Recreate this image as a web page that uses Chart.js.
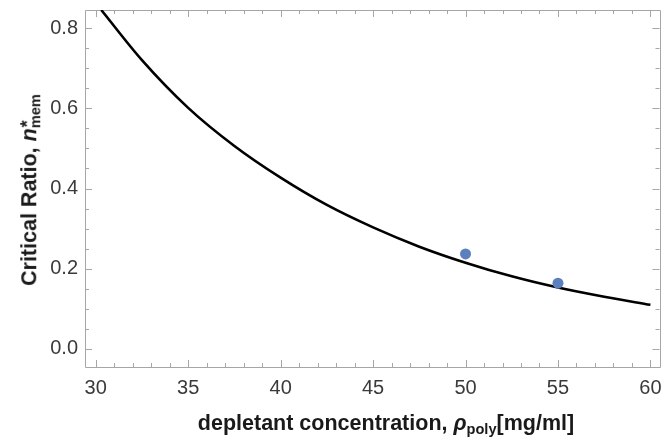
<!DOCTYPE html>
<html>
<head>
<meta charset="utf-8">
<script src="https://cdn.jsdelivr.net/npm/chart.js@4/dist/chart.umd.min.js"></script>
<style>
  html, body { margin: 0; padding: 0; background: #fff; }
  #wrap { position: relative; width: 665px; height: 447px; }
  canvas { position: absolute; left: 0; top: 0; }
  .ttl { position: absolute; font-family: "Liberation Sans", Arial, sans-serif; font-weight: bold; color: #1a1a1a; white-space: nowrap; font-size: 21.5px; line-height: 1; }
  .ttl i { font-style: italic; }
  .sb { font-size: 0.68em; position: relative; top: 0.3em; }
  .sx { display: inline-block; position: relative; }
  .st { position: absolute; left: 0.05em; top: -0.05em; font-size: 0.85em; }
  #xt { left: 386px; top: 424px; transform: translate(-50%, -50%); }
  #yt { left: 30px; top: 190px; transform: translate(-50%, -50%) rotate(-90deg); }
</style>
</head>
<body>
<div id="wrap">
  <canvas id="c" width="665" height="447"></canvas>
  <div class="ttl" id="xt">depletant concentration, <i>ρ</i><span class="sb">poly</span>[mg/ml]</div>
  <div class="ttl" id="yt">Critical Ratio, <i>n</i><span class="sx"><span class="st">*</span><span class="sb">mem</span></span></div>
</div>
<script>
// ---- data ----
const curveX = [30.3, 32.5, 35, 37.5, 40, 42.5, 45, 47.5, 50, 52.5, 55, 57.5, 60];
const curveY = [0.845, 0.720, 0.601, 0.506, 0.427, 0.359, 0.303, 0.255, 0.215, 0.181, 0.153, 0.130, 0.110];
const pointX = [50, 55];
const pointY = [0.237, 0.164];
const xTickValues = [30, 35, 40, 45, 50, 55, 60];
const yTickValues = [0.0, 0.2, 0.4, 0.6, 0.8];

const curveData = curveX.map((x, i) => ({ x: x, y: curveY[i] }));
const pointData = pointX.map((x, i) => ({ x: x, y: pointY[i] }));

const frameColor = '#a6a6a6';
const frameTicks = {
  id: 'frameTicks',
  beforeDatasetsDraw(chart) {
    const ctx = chart.ctx;
    const a = chart.chartArea;
    const xs = chart.scales.x, ys = chart.scales.y;
    ctx.save();
    ctx.strokeStyle = frameColor;
    ctx.lineWidth = 1;
    ctx.beginPath();
    ctx.rect(Math.round(a.left) + 0.5, Math.round(a.top) + 0.5, Math.round(a.right - a.left), Math.round(a.bottom - a.top));
    ctx.stroke();
    ctx.beginPath();
    for (let v = 30; v <= 60.001; v += 1) {
      const major = xTickValues.some(t => Math.abs(t - v) < 1e-6);
      const len = major ? 7 : 4;
      const px = Math.round(xs.getPixelForValue(v)) + 0.5;
      ctx.moveTo(px, a.bottom); ctx.lineTo(px, a.bottom - len);
      ctx.moveTo(px, a.top); ctx.lineTo(px, a.top + len);
    }
    for (let k = 0; k <= 16; k++) {
      const v = k * 0.05;
      const major = yTickValues.some(t => Math.abs(t - v) < 1e-6);
      const len = major ? 7 : 4;
      const py = Math.round(ys.getPixelForValue(v)) + 0.5;
      ctx.moveTo(a.left, py); ctx.lineTo(a.left + len, py);
      ctx.moveTo(a.right, py); ctx.lineTo(a.right - len, py);
    }
    ctx.stroke();
    ctx.restore();
  }
};

new Chart(document.getElementById('c'), {
  type: 'scatter',
  data: {
    datasets: [
      {
        type: 'line',
        data: curveData,
        borderColor: '#000',
        borderWidth: 2.6,
        pointRadius: 0,
        fill: false,
        cubicInterpolationMode: 'monotone',
        order: 2
      },
      {
        type: 'scatter',
        data: pointData,
        backgroundColor: '#5b80bd',
        borderColor: '#5b80bd',
        borderWidth: 0,
        pointRadius: 5.5,
        order: 1
      }
    ]
  },
  options: {
    responsive: false,
    animation: false,
    devicePixelRatio: 1,
    layout: { padding: { left: 0, right: 4, top: 10, bottom: 0 } },
    plugins: { legend: { display: false }, tooltip: { enabled: false } },
    scales: {
      x: {
        type: 'linear',
        min: 29.42, max: 60.49,
        border: { display: false },
        grid: { display: false, drawTicks: false },
        afterBuildTicks: s => { s.ticks = xTickValues.map(v => ({ value: v })); },
        afterFit: s => { s.height = 80; s.paddingLeft = 0; s.paddingRight = 0; },
        ticks: {
          padding: 9,
          color: '#3a3a3a',
          font: { family: '"Liberation Sans", Arial, sans-serif', size: 20 },
          callback: v => String(v),
          maxRotation: 0
        }
      },
      y: {
        type: 'linear',
        min: -0.045, max: 0.845,
        border: { display: false },
        grid: { display: false, drawTicks: false },
        afterBuildTicks: s => { s.ticks = yTickValues.map(v => ({ value: v })); },
        afterFit: s => { s.width = 85; s.paddingTop = 0; s.paddingBottom = 0; },
        ticks: {
          padding: 7,
          color: '#3a3a3a',
          font: { family: '"Liberation Sans", Arial, sans-serif', size: 20 },
          callback: v => Number(v).toFixed(1)
        }
      }
    }
  },
  plugins: [frameTicks]
});
</script>
</body>
</html>
